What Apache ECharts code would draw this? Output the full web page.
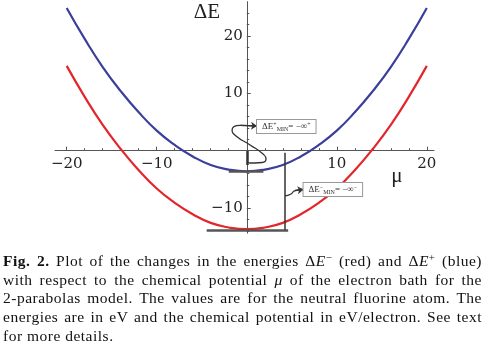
<!DOCTYPE html>
<html>
<head>
<meta charset="utf-8">
<script src="https://cdn.jsdelivr.net/npm/echarts@6.0.0/dist/echarts.min.js"></script>
<style>
html,body{margin:0;padding:0;background:#fff;}
#main{position:absolute;left:0;top:0;width:486px;height:350px;}
#cap{position:absolute;left:3px;top:252px;width:479px;font-family:"Liberation Serif",serif;font-size:15.5px;letter-spacing:0.5px;line-height:18.7px;color:#111;}
#cap .j{text-align:justify;text-align-last:justify;}
#cap sup{font-size:0.7em;line-height:0;vertical-align:0.5em;}
</style>
</head>
<body>
<div id="main"></div>
<div id="cap">
<div class="j"><b>Fig. 2.</b> Plot of the changes in the energies &Delta;<i>E</i><sup>&minus;</sup> (red) and &Delta;<i>E</i><sup>+</sup> (blue)</div>
<div class="j">with respect to the chemical potential <i>&mu;</i> of the electron bath for the</div>
<div class="j">2-parabolas model. The values are for the neutral fluorine atom. The</div>
<div class="j">energies are in eV and the chemical potential in eV/electron. See text</div>
<div>for more details.</div>
</div>
<script>
// chemical potential mu (eV/electron)
var mu = [-20,-18,-16,-14,-12,-10,-8,-6,-4,-2,0,2,4,6,8,10,12,14,16,18,20];
// Delta E+ (blue) and Delta E- (red), eV
var dePlus  = [24.9,19.5,14.6,10.4,6.7,3.5,1.0,-1.0,-2.5,-3.3,-3.6,-3.3,-2.5,-1.0,1.0,3.5,6.7,10.4,14.6,19.5,24.9];
var deMinus = [14.8,9.4,4.5,0.3,-3.4,-6.6,-9.1,-11.1,-12.6,-13.4,-13.7,-13.4,-12.6,-11.1,-9.1,-6.6,-3.4,0.3,4.5,9.4,14.8];

// tick labels / ticks
var xMajor = [-20,-10,10,20];
var xMinor = [-18,-16,-14,-12,-8,-6,-4,-2,2,4,6,8,12,14,16,18];
var yMajor = [-10,10,20];
var yMinor = [-14,-12,-8,-6,-4,-2,2,4,6,8,12,14,16,18,22,24];

// annotations (data units)
var plusMinBar  = [[-2.0,-3.6],[1.85,-3.6]];
var minusMinBar = [[-4.45,-13.85],[4.6,-13.85]];
var minusDrop   = [[4.2,-0.35],[4.2,-13.85]];
var plusTick    = [[0.1,-0.05],[0.1,-2.5]];
var plusCurve   = [[0.26,-2.15],[1.7,-2.06],[2.14,-1.45],[1.81,-0.58],[0.37,1.0],[-1.19,2.57],[-1.63,3.6],[-0.74,4.4],[1.14,4.31]];
var minusCurve  = [[4.25,-7.9],[4.92,-7.56],[5.37,-6.95],[6.31,-6.77]];
var plusBoxAt   = [1.14,4.2];
var minusBoxAt  = [6.31,-6.77];

var xMin = -21.3, xMax = 20.8, yMin = -14.4, yMax = 26;
var gLeft = 55, gRight = 52, gTop = 1.7, gBottom = 116.8;

function pairs(xs, ys) { return xs.map(function (x, i) { return [x, ys[i]]; }); }
function seg(p) { return [{coord: p[0]}, {coord: p[1]}]; }
function minus(v) { return v < 0 ? '\u2212' + (-v) : '' + v; }

var chart = echarts.init(document.getElementById('main'));
var W = chart.getWidth(), H = chart.getHeight();
var gW = W - gLeft - gRight, gH = H - gTop - gBottom;
// move the axes onto the zero lines (offset is measured from the grid edge)
var xOff = -(gH * (0 - yMin) / (yMax - yMin));
var yOff = -(gW * (0 - xMin) / (xMax - xMin));

var axisCol = '#555';
var lblFont = {fontFamily: 'DejaVu Serif', fontSize: 15, color: '#222'};

var boxLabel = {
  show: true, position: 'right', distance: 0,
  fontFamily: 'Liberation Serif', fontSize: 9, color: '#333',
  backgroundColor: '#fff', borderColor: '#999', borderWidth: 1, padding: [1, 5],
  rich: {
    b: {fontFamily: 'Liberation Serif', fontSize: 9, color: '#333', lineHeight: 11},
    s: {fontFamily: 'Liberation Serif', fontSize: 6, color: '#333', verticalAlign: 'bottom', lineHeight: 11},
    u: {fontFamily: 'Liberation Serif', fontSize: 6, color: '#333', verticalAlign: 'top', lineHeight: 11}
  }
};

var option = {
  animation: false,
  grid: {left: gLeft, right: gRight, top: gTop, bottom: gBottom},
  xAxis: [
    {
      type: 'value', min: xMin, max: xMax, position: 'bottom', offset: xOff,
      axisLine: {onZero: false, lineStyle: {color: axisCol, width: 1}},
      axisTick: {inside: true, length: 4, customValues: xMajor, lineStyle: {color: axisCol}},
      axisLabel: Object.assign({customValues: xMajor, margin: 6, formatter: minus}, lblFont),
      splitLine: {show: false}
    },
    {
      type: 'value', min: xMin, max: xMax, position: 'bottom', offset: xOff,
      axisLine: {show: false, onZero: false},
      axisTick: {inside: true, length: 2.5, customValues: xMinor, lineStyle: {color: axisCol}},
      axisLabel: {show: false},
      splitLine: {show: false}
    }
  ],
  yAxis: [
    {
      type: 'value', min: yMin, max: yMax, position: 'left', offset: yOff,
      axisLine: {onZero: false, lineStyle: {color: axisCol, width: 1}},
      axisTick: {inside: true, length: 4, customValues: yMajor, lineStyle: {color: axisCol}},
      axisLabel: Object.assign({customValues: yMajor, margin: 4, formatter: minus}, lblFont),
      splitLine: {show: false}
    },
    {
      type: 'value', min: yMin, max: yMax, position: 'left', offset: yOff,
      axisLine: {show: false, onZero: false},
      axisTick: {inside: true, length: 2.5, customValues: yMinor, lineStyle: {color: axisCol}},
      axisLabel: {show: false},
      splitLine: {show: false}
    }
  ],
  series: [
    {
      name: 'dE+', type: 'line', smooth: true, showSymbol: false, silent: true,
      data: pairs(mu, dePlus),
      lineStyle: {color: '#3b3f9c', width: 2.2}
    },
    {
      name: 'dE-', type: 'line', smooth: true, showSymbol: false, silent: true,
      data: pairs(mu, deMinus),
      lineStyle: {color: '#e2262b', width: 2.2}
    },
    {
      name: 'bars', type: 'line', data: [], silent: true,
      markLine: {
        silent: true, symbol: ['none', 'none'], label: {show: false},
        lineStyle: {color: '#555', width: 2.5, type: 'solid'},
        data: [seg(plusMinBar), seg(minusMinBar), seg(minusDrop), seg(plusTick)].map(function (d, i) {
          if (i >= 2) { d[0].lineStyle = {color: '#333', width: i === 3 ? 2.5 : 1.5, type: 'solid'}; }
          return d;
        })
      }
    },
    {
      name: 'arrowPlus', type: 'line', smooth: 0.6, showSymbol: false, silent: true,
      data: plusCurve,
      lineStyle: {color: '#333', width: 1.3},
      markLine: {
        silent: true, symbol: ['none', 'arrow'], symbolSize: 6, label: {show: false},
        lineStyle: {color: '#333', width: 1.3, type: 'solid'},
        data: [seg(plusCurve.slice(-2))]
      },
      markPoint: {
        symbol: 'rect', symbolSize: 0, silent: true,
        label: Object.assign({formatter: '{b|\u0394E}{u|+}{s|MIN}{b|= \u2212\u221e}{u|+}'}, boxLabel),
        data: [{coord: plusBoxAt}]
      }
    },
    {
      name: 'arrowMinus', type: 'line', smooth: 0.6, showSymbol: false, silent: true,
      data: minusCurve,
      lineStyle: {color: '#333', width: 1.3},
      markLine: {
        silent: true, symbol: ['none', 'arrow'], symbolSize: 6, label: {show: false},
        lineStyle: {color: '#333', width: 1.3, type: 'solid'},
        data: [seg(minusCurve.slice(-2))]
      },
      markPoint: {
        symbol: 'rect', symbolSize: 0, silent: true,
        label: Object.assign({formatter: '{b|\u0394E}{u|\u2212}{s|MIN}{b|= \u2212\u221e}{u|\u2212}'}, boxLabel),
        data: [{coord: minusBoxAt}]
      }
    }
  ],
  graphic: [
    {type: 'text', x: 207, y: 12, style: {text: '\u0394E', font: '21px "Liberation Serif"', fill: '#222', align: 'center', verticalAlign: 'middle'}},
    {type: 'text', x: 397, y: 176, style: {text: '\u03bc', font: '21px "Liberation Serif"', fill: '#222', align: 'center', verticalAlign: 'middle'}}
  ]
};
chart.setOption(option);
</script>
</body>
</html>
